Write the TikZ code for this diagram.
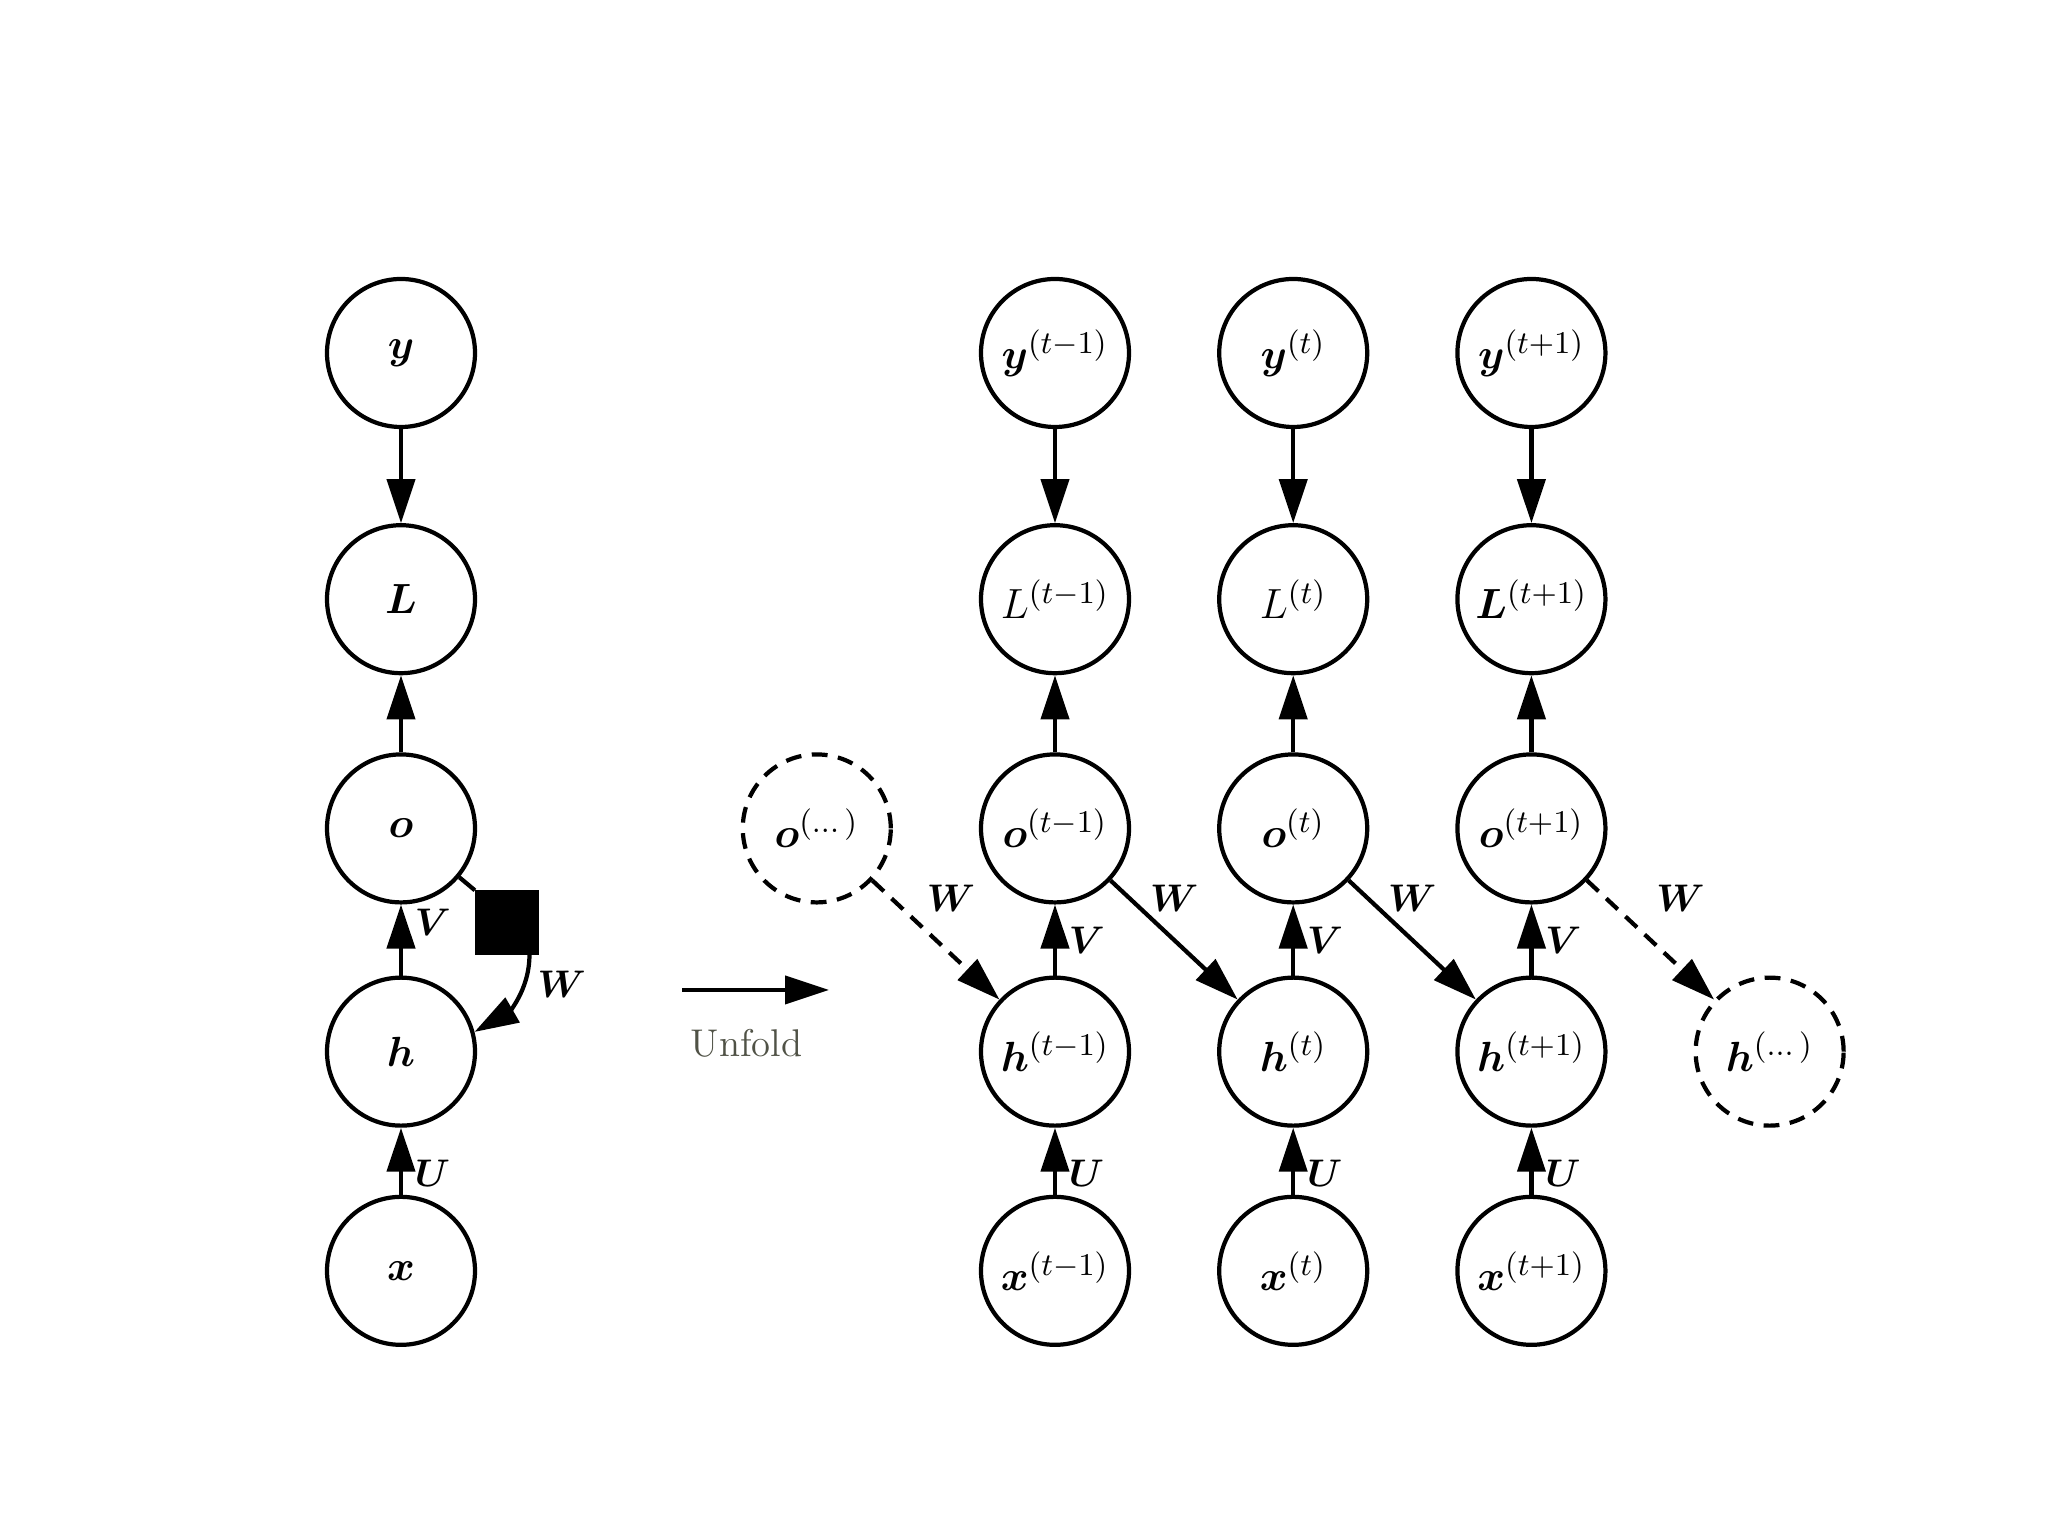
\documentclass[tikz,border=0pt]{standalone}
\usepackage{amsmath}
\usepackage{bm}
\usepackage{tikz}
\usetikzlibrary{arrows.meta,positioning}
\definecolor{unfoldgray}{RGB}{80,82,70}

\begin{document}
\begin{tikzpicture}[
    node distance=7.2mm and 8.6mm,
    line width=1.2pt,
    unit/.style={draw,circle,minimum size=14.8mm,inner sep=0pt,font=\fontsize{12.5}{14}\selectfont},
    ghost/.style={unit,dash pattern=on 4.5pt off 3pt},
    wsq/.style={draw,fill=black,minimum size=6mm,inner sep=0pt},
    lbl/.style={font=\fontsize{11}{13}\selectfont},
    >={Triangle[length=4.4mm,width=2.8mm]}]
  \useasboundingbox (0,0) rectangle (20.48,15.36);
  % folded graph
  \node[unit] (y) at (4.01,11.83) {$\bm{y}$};
  \node[unit,below=9.4mm of y] (L) {$\bm{L}$};
  \node[unit,below=7.7mm of L] (o) {$\bm{o}$};
  \node[unit,below=7.1mm of o] (h) {$\bm{h}$};
  \node[unit,below=6.7mm of h] (x) {$\bm{x}$};
  \node[wsq] (sq) at ([shift={(1.06,-0.94)}]o) {};
  \draw[->] (y) -- (L);
  \draw[->] (o) -- (L);
  \draw[->] (h) -- node[lbl,right,pos=0.75]{$\bm{V}$} (o);
  \draw[->] (x) -- node[lbl,right,pos=0.32]{$\bm{U}$} (h);
  \draw (o) -- (sq.north west);
  \draw[->] (sq.-55) to[out=-90,in=30] node[lbl,right,pos=0.3]{$\bm{W}$} (h.15);
  % unfold arrow
  \coordinate (ua) at (6.82,5.46);
  \coordinate (ub) at (8.29,5.46);
  \draw[->] (ua) -- node[lbl,below=2.5mm,xshift=-0.9mm,text=unfoldgray]{Unfold} (ub);
  % unfolded graph
  \node[unit] (y1) at (10.55,11.83) {$\bm{y}^{(t-1)}$};
  \node[unit,right=of y1] (y2) {$\bm{y}^{(t)}$};
  \node[unit,right=of y2] (y3) {$\bm{y}^{(t+1)}$};
  \node[unit,below=9.4mm of y1] (L1) {$L^{(t-1)}$};
  \node[unit,right=of L1] (L2) {$L^{(t)}$};
  \node[unit,right=of L2] (L3) {$\bm{L}^{(t+1)}$};
  \node[unit,below=7.7mm of L1] (o1) {$\bm{o}^{(t-1)}$};
  \node[unit,right=of o1] (o2) {$\bm{o}^{(t)}$};
  \node[unit,right=of o2] (o3) {$\bm{o}^{(t+1)}$};
  \node[ghost,left=of o1] (oprev) {$\bm{o}^{(\dots)}$};
  \node[unit,below=7.1mm of o1] (h1) {$\bm{h}^{(t-1)}$};
  \node[unit,right=of h1] (h2) {$\bm{h}^{(t)}$};
  \node[unit,right=of h2] (h3) {$\bm{h}^{(t+1)}$};
  \node[ghost,right=of h3] (hnext) {$\bm{h}^{(\dots)}$};
  \node[unit,below=6.7mm of h1] (x1) {$\bm{x}^{(t-1)}$};
  \node[unit,right=of x1] (x2) {$\bm{x}^{(t)}$};
  \node[unit,right=of x2] (x3) {$\bm{x}^{(t+1)}$};
  \draw[->] (y1) -- (L1);
  \draw[->] (y2) -- (L2);
  \draw[->] (y3) -- (L3);
  \draw[->] (o1) -- (L1);
  \draw[->] (o2) -- (L2);
  \draw[->] (o3) -- (L3);
  \draw[->] (h1) -- node[lbl,right]{$\bm{V}$} (o1);
  \draw[->] (h2) -- node[lbl,right]{$\bm{V}$} (o2);
  \draw[->] (h3) -- node[lbl,right]{$\bm{V}$} (o3);
  \draw[->] (x1) -- node[lbl,right,pos=0.32]{$\bm{U}$} (h1);
  \draw[->] (x2) -- node[lbl,right,pos=0.32]{$\bm{U}$} (h2);
  \draw[->] (x3) -- node[lbl,right,pos=0.32]{$\bm{U}$} (h3);
  \draw[->,dash pattern=on 4.5pt off 3pt] (oprev) -- node[lbl,above=1.5mm,xshift=1.5mm]{$\bm{W}$} (h1);
  \draw[->] (o1) -- node[lbl,above=1.5mm]{$\bm{W}$} (h2);
  \draw[->] (o2) -- node[lbl,above=1.5mm]{$\bm{W}$} (h3);
  \draw[->,dash pattern=on 4.5pt off 3pt] (o3) -- node[lbl,above=1.5mm,xshift=3mm]{$\bm{W}$} (hnext);
\end{tikzpicture}
\end{document}
